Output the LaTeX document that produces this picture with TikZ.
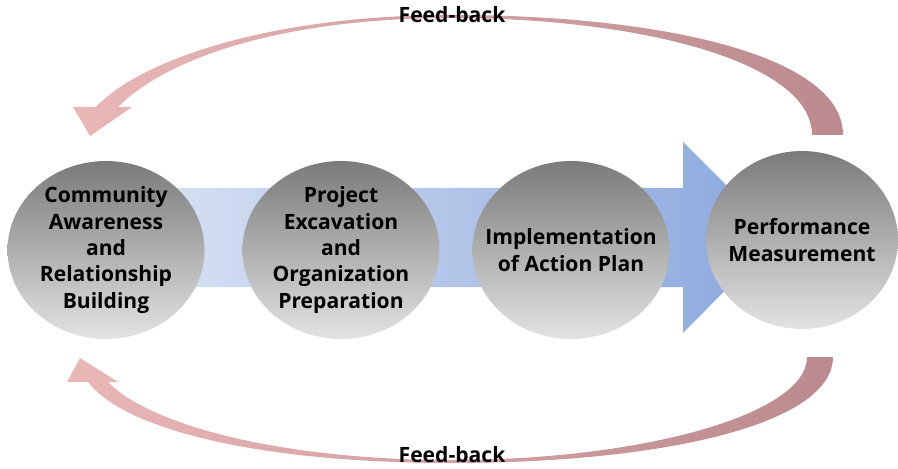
\documentclass[tikz,border=0pt]{standalone}
\usepackage{fontspec}
\setmainfont{Open Sans}
\usetikzlibrary{shapes.geometric}

\definecolor{flowlight}{RGB}{220,229,245}
\definecolor{flowdark}{RGB}{138,167,221}
\definecolor{fbpink}{RGB}{234,183,183}
\definecolor{fbrose}{RGB}{186,138,142}

\begin{document}
\begin{tikzpicture}[
  x=0.02cm, y=-0.02cm, % 1 unit = 1 px of the layout, y downwards
  stage/.style={ellipse, minimum width=3.94cm, minimum height=3.56cm,
                inner xsep=-30pt, inner ysep=-25pt,
                top color=black!52, bottom color=black!11, align=center,
                font=\bfseries\fontsize{12}{15}\selectfont},
  fblabel/.style={font=\bfseries\fontsize{12}{14}\selectfont, inner sep=1pt}
]
  \useasboundingbox (0,0) rectangle (898,469);

  % main flow arrow (behind the stages)
  \shade[left color=flowlight, right color=flowdark]
    (106,188) -- (683,188) -- (683,142) -- (778,237) -- (683,333)
    -- (683,287) -- (106,287) -- cycle;

  % stages
  \node[stage] (s1) at (106,250) {Community\\Awareness\\and\\Relationship\\Building};
  \node[stage] (s2) at (341,250) {Project\\Excavation\\and\\Organization\\Preparation};
  \node[stage] (s3) at (571,250) {Implementation\\of Action Plan};
  \node[stage, minimum width=3.84cm] (s4) at (802,240) {Performance\\Measurement};

  % feed-back loops, tapered bands
  \coordinate (topR) at (843,135);
  \coordinate (topL) at (90,136);
  \shade[left color=fbpink, right color=fbrose]
    (topR) .. controls (843,55) and (660,15) .. (452,15)
    .. controls (270,15) and (140,60) .. (96,107)
    -- (73,107) -- (topL) -- (132,107) -- (118,107)
    .. controls (170,55) and (290,18) .. (452,18)
    .. controls (640,18) and (812,62) .. (812,135) -- cycle;

  \coordinate (botR) at (833,357);
  \coordinate (botL) at (80,358);
  \shade[left color=fbpink, right color=fbrose]
    (botR) .. controls (833,425) and (660,463) .. (452,463)
    .. controls (260,463) and (125,430) .. (88,382)
    -- (67,382) -- (botL) -- (118,382) -- (108,382)
    .. controls (150,425) and (280,460) .. (452,460)
    .. controls (640,460) and (807,415) .. (807,357) -- cycle;

  \node[fblabel] (fbtop) at (452,15) {Feed-back};
  \node[fblabel] (fbbot) at (452,455) {Feed-back};
\end{tikzpicture}
\end{document}
